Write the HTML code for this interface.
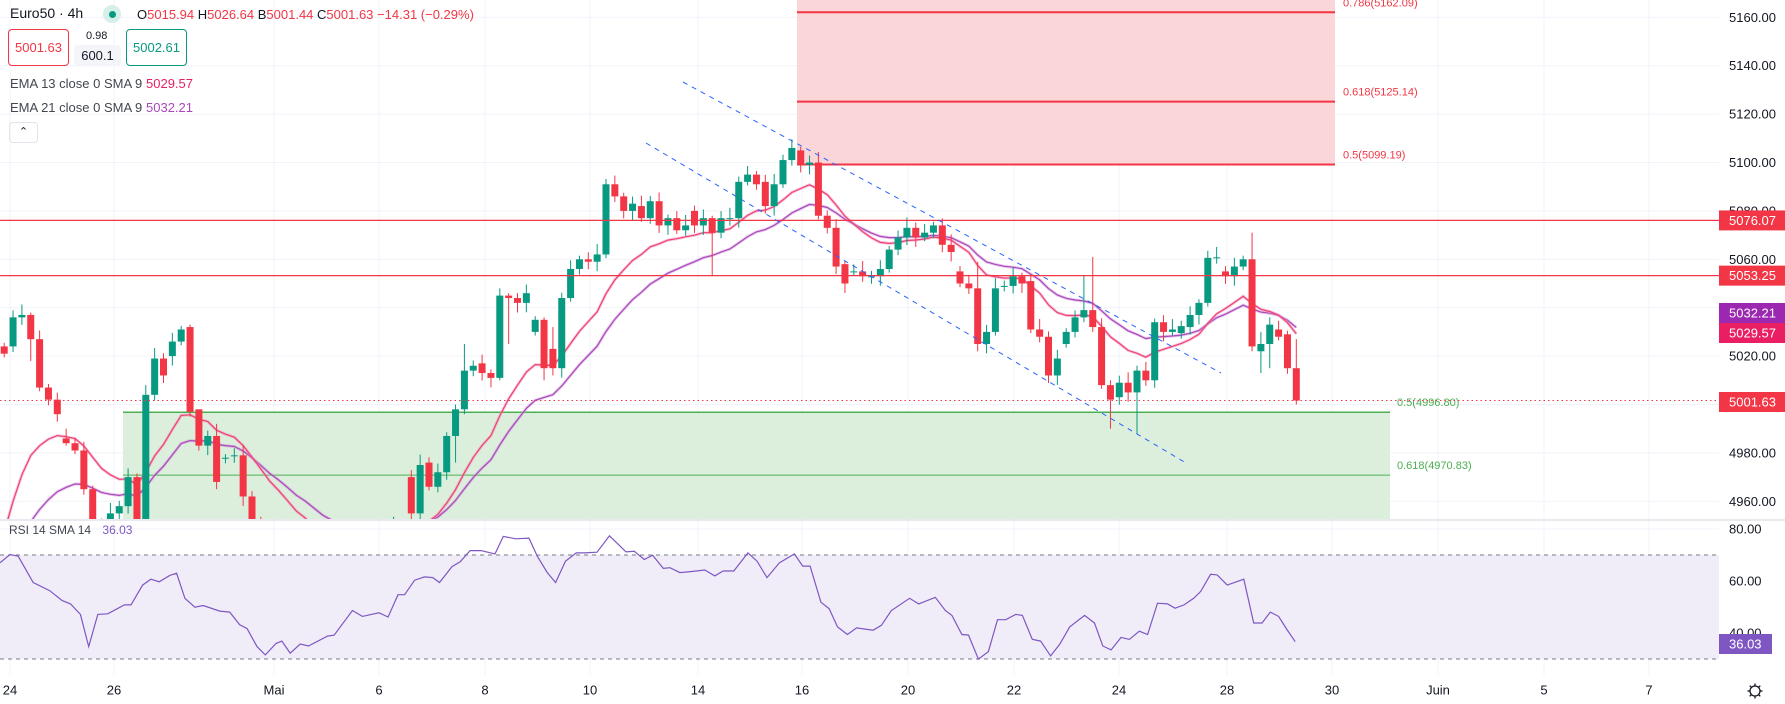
<!DOCTYPE html>
<html><head><meta charset="utf-8">
<style>
html,body{margin:0;padding:0;background:#fff;width:1785px;height:704px;overflow:hidden;font-family:"Liberation Sans",sans-serif;color:#131722}
#wrap{position:relative;width:1785px;height:704px}
svg{position:absolute;left:0;top:0}
.t{position:absolute;white-space:nowrap;font-size:13px;line-height:1}
.box{position:absolute;border-radius:4px;display:flex;align-items:center;justify-content:center;font-size:13px}
</style></head><body><div id="wrap">
<svg id="s" width="1785" height="704" viewBox="0 0 1785 704" xmlns="http://www.w3.org/2000/svg">
<defs>
<clipPath id="cp"><rect x="0" y="0" width="1719" height="519"/></clipPath>
<clipPath id="cr"><rect x="0" y="521" width="1719" height="154"/></clipPath>
</defs>
<g id="grid"></g>
<g id="zones"></g>
<g id="ema" clip-path="url(#cp)"></g>
<g id="candles" clip-path="url(#cp)"></g>
<g id="lines" clip-path="url(#cp)"></g>
<g id="rsi"></g>
<g id="axis"></g>
</svg>

<div class="t" style="left:10px;top:6px;font-size:14px">Euro50 · 4h</div>
<div style="position:absolute;left:103px;top:5px;width:18px;height:18px;border-radius:50%;background:#d6efe9"></div>
<div style="position:absolute;left:108.5px;top:10.5px;width:7px;height:7px;border-radius:50%;background:#089981"></div>
<div class="t" style="left:137px;top:8px">O<span style="color:#f23645">5015.94</span> H<span style="color:#f23645">5026.64</span> B<span style="color:#f23645">5001.44</span> C<span style="color:#f23645">5001.63</span> <span style="color:#f23645">−14.31 (−0.29%)</span></div>
<div class="box" style="left:8px;top:29px;width:59px;height:35px;border:1px solid #f23645;color:#f23645">5001.63</div>
<div class="t" style="left:86px;top:31px;font-size:11px">0.98</div>
<div class="box" style="left:74px;top:45px;width:47px;height:21px;background:#f3f5f9;color:#131722">600.1</div>
<div class="box" style="left:126px;top:29px;width:59px;height:35px;border:1px solid #089981;color:#089981">5002.61</div>
<div class="t" style="left:10px;top:77px;color:#434651">EMA 13 close 0 SMA 9</div>
<div class="t" style="left:146px;top:77px;color:#e91e63">5029.57</div>
<div class="t" style="left:10px;top:101px;color:#434651">EMA 21 close 0 SMA 9</div>
<div class="t" style="left:146px;top:101px;color:#ab47bc">5032.21</div>
<div style="position:absolute;left:9px;top:122px;width:27px;height:19px;border:1px solid #e0e3eb;border-radius:4px;font-size:11px;text-align:center;line-height:19px;color:#131722">&#8963;</div>
<div class="t" style="left:9px;top:524px;font-size:12px;color:#434651">RSI 14 SMA 14 <span style="color:#7e57c2;margin-left:8px">36.03</span></div>

<script>
(function(){
var NS="http://www.w3.org/2000/svg";
function el(p,tag,a,txt){var e=document.createElementNS(NS,tag);for(var k in a)e.setAttribute(k,a[k]);if(txt!==undefined)e.textContent=txt;document.getElementById(p).appendChild(e);return e;}
function py(p){return 17.3+(5160-p)*2.42;}
function ry(v){return 529+(80-v)*2.6;}
var W=1719;
for(var p=5160;p>=4960;p-=20){el("grid","line",{x1:0,x2:W,y1:py(p),y2:py(p),stroke:"#f0f3fa","stroke-width":1});}
[80,60,40].forEach(function(v){el("grid","line",{x1:0,x2:W,y1:ry(v),y2:ry(v),stroke:"#f0f3fa"});});
var days=[["24",10],["26",114],["Mai",274],["6",379],["8",485],["10",590],["14",698],["16",802],["20",908],["22",1014],["24",1119],["28",1227],["30",1332],["Juin",1438],["5",1544],["7",1649]];
days.forEach(function(d){el("grid","line",{x1:d[1],x2:d[1],y1:0,y2:675,stroke:"#f0f3fa"});});
el("zones","rect",{x:797,y:0,width:538,height:py(5099.19),fill:"#fad6d9"});
el("zones","rect",{x:123,y:py(4996.8),width:1267,height:519-py(4996.8),fill:"#dcefdc"});
[5162.09,5125.14,5099.19].forEach(function(v){el("zones","line",{x1:797,x2:1335,y1:py(v),y2:py(v),stroke:"#f23645","stroke-width":2});});
el("zones","line",{x1:123,x2:1390,y1:py(4996.8),y2:py(4996.8),stroke:"#4caf50","stroke-width":1.5});
el("zones","line",{x1:123,x2:1390,y1:py(4970.83),y2:py(4970.83),stroke:"#4caf50","stroke-width":1});
el("zones","text",{x:1343,y:py(5162.09)-6,fill:"#f23645","font-size":11,"font-family":"Liberation Sans"},"0.786(5162.09)");
el("zones","text",{x:1343,y:py(5125.14)-6,fill:"#f23645","font-size":11,"font-family":"Liberation Sans"},"0.618(5125.14)");
el("zones","text",{x:1343,y:py(5099.19)-6,fill:"#f23645","font-size":11,"font-family":"Liberation Sans"},"0.5(5099.19)");
el("zones","text",{x:1397,y:py(4996.8)-6,fill:"#4caf50","font-size":11,"font-family":"Liberation Sans"},"0.5(4996.80)");
el("zones","text",{x:1397,y:py(4970.83)-6,fill:"#4caf50","font-size":11,"font-family":"Liberation Sans"},"0.618(4970.83)");
var B=[[5024,5021],[5024,5036],[5036,5037],[5037,5027],[5027,5007],[5007,5002],[5002,4996],[4986,4984],[4984,4981],[4981,4965],
[4965,4950],[4950,4946],[4946,4955],[4955,4958],[4958,4970],[4970,4952],[4952,5004],[5004,5019],[5019,5012],[5020,5026],
[5026,5031],[5032,4997],[4998,4983],[4983,4987],[4987,4968],[4978,4978],[4979,4979],[4979,4962],[4962,4950],[4950,4944],
[4944,4938],[4938,4942],[4942,4935],[4935,4930],[4930,4936],[4936,4928],[4928,4925],[4925,4932],[4932,4936],[4936,4931],
[4931,4938],[4938,4943],[4943,4940],[4940,4946],[4946,4950],[4950,4947],[4970,4955],[4955,4975],[4976,4966],[4966,4972],
[4972,4987],[4987,4998],[4998,5014],[5014,5016],[5017,5013],[5013,5011],[5011,5045],[5045,5044],[5044,5042],[5042,5046],
[5030,5035],[5035,5015],[5023,5015],[5015,5044],[5044,5056],[5056,5060],[5060,5059],[5059,5062],[5062,5091],[5091,5086],
[5086,5080],[5080,5083],[5082,5077],[5077,5084],[5084,5074],[5074,5077],[5077,5072],[5072,5074],[5080,5074],[5074,5077],
[5077,5071],[5071,5077],[5077,5077],[5077,5092],[5092,5095],[5095,5091],[5092,5082],[5082,5091],[5091,5101],[5101,5106],
[5105,5099],[5099,5100],[5100,5078],[5078,5073],[5073,5057],[5058,5050],[5055,5055],[5055,5053],[5053,5053],[5053,5056],
[5056,5064],[5064,5069],[5069,5073],[5073,5069],[5069,5071],[5071,5074],[5074,5066],[5066,5063],[5055,5050],[5050,5048],
[5048,5025],[5025,5030],[5030,5048],[5049,5049],[5049,5053],[5053,5050],[5051,5031],[5031,5028],[5028,5012],[5012,5019],
[5025,5030],[5030,5036],[5036,5039],[5039,5032],[5032,5008],[5008,5002],[5003,5009],[5009,5005],[5005,5014],[5014,5010],
[5010,5034],[5034,5030],[5030,5031],[5029.5,5032.4],[5032,5037],[5037,5042],[5042,5060.6],[5060.5,5060.8],[5055,5053],[5053,5057],
[5057,5060],[5060,5024],[5022,5025],[5025,5033],[5031,5028],[5029,5015],[5015,5001.63]];
var OV={3:[5038,5018],7:[4990,4983],16:[5008,4950],21:[5033,4995],22:[4998,4981],24:[4992,4965],51:[5000,4976],52:[5025,4996],
56:[5048,5010],57:[5046,5025],58:[5046,5038],61:[5036,5010],62:[5032,5012],80:[5078,5053],110:[5059,5022],122:[5053,5034],
123:[5061,5030],125:[5010,4990],128:[5016,4988],141:[5071,5022],142:[5030,5013],143:[5036,5015],146:[5027,5000]};
var N=B.length, SP=8.85, XL=1296.3;
function bx(i){return XL-(N-1-i)*SP;}
for(var i=0;i<N;i++){
 var o=B[i][0],c=B[i][1],up=c>=o,col=up?"#089981":"#f23645";
 var w=1.5+((i*37)%5)*0.7;
 var h=Math.max(o,c)+w,l=Math.min(o,c)-(1.5+((i*53)%4)*0.8);
 if(OV[i]){h=OV[i][0];l=OV[i][1];}
 var x=bx(i);
 el("candles","line",{x1:x,x2:x,y1:py(h),y2:py(l),stroke:col,"stroke-width":1});
 var t=py(Math.max(o,c)),bh=Math.max(1,py(Math.min(o,c))-t);
 el("candles","rect",{x:x-3.5,y:t,width:7,height:bh,fill:col});
}
function ema(n,seed){var k=2/(n+1),e=seed,r=[];for(var i=0;i<N;i++){e=B[i][1]*k+e*(1-k);r.push(e);}return r;}
function pl(a,col,sw,op){var d="";for(var i=0;i<a.length;i++){d+=(i?"L":"M")+bx(i).toFixed(1)+","+py(a[i]).toFixed(1);}el("ema","path",{d:d,fill:"none",stroke:col,"stroke-width":sw,"stroke-opacity":op||1});}
var e13=ema(13,4935),e21=ema(21,4915);
pl(e21,"#ce93d8",3,0.5);pl(e21,"#ab47bc",1.2);
pl(e13,"#f48fb1",3,0.5);pl(e13,"#ec407a",1.2);
[5076.07,5053.25].forEach(function(v){el("lines","line",{x1:0,x2:W,y1:py(v),y2:py(v),stroke:"#f23645","stroke-width":1.2});});
el("lines","line",{x1:0,x2:W,y1:py(5001.63),y2:py(5001.63),stroke:"#f23645","stroke-width":1,"stroke-dasharray":"1.5,3"});
el("lines","line",{x1:683,y1:82,x2:1221,y2:373,stroke:"#2962ff","stroke-width":1,"stroke-dasharray":"5,5"});
el("lines","line",{x1:646,y1:143,x2:1186,y2:463,stroke:"#2962ff","stroke-width":1,"stroke-dasharray":"5,5"});
el("rsi","rect",{x:0,y:ry(70),width:W,height:ry(30)-ry(70),fill:"#f0edf8"});
el("rsi","line",{x1:0,x2:W,y1:ry(70),y2:ry(70),stroke:"#787b86","stroke-dasharray":"4,4"});
el("rsi","line",{x1:0,x2:W,y1:ry(30),y2:ry(30),stroke:"#787b86","stroke-dasharray":"4,4"});
var R=[[0,130],[12,105],[22,110],[40,190],[60,215],[75,245],[85,255],[97,287],[107,385],[118,287],[130,285],[150,258],[158,258],[172,198],[182,180],[192,188],[205,168],[213,162],[223,238],[235,265],[245,260],[265,277],[277,280],[289,318],[298,330],[310,385],[320,410],[333,375],[340,368],[350,405],[362,377],[372,383],[395,353],[403,350],[425,275],[437,293],[457,282],[468,295],[480,227],[488,227],[500,183],[512,173],[522,175],[530,190],[545,142],[555,127],[567,93],[580,93],[597,103],[607,50],[622,57],[638,55],[648,110],[660,160],[670,190],[682,125],[695,100],[705,100],[720,98],[735,48],[755,97],[765,95],[777,120],[787,107],[800,147],[808,145],[820,160],[833,157],[850,152],[862,170],[872,155],[885,155],[902,100],[913,125],[925,175],[940,130],[958,103],[968,140],[977,140],[990,250],[1000,270],[1010,325],[1022,348],[1033,328],[1053,335],[1063,320],[1075,275],[1097,238],[1108,255],[1128,235],[1140,275],[1148,290],[1160,348],[1168,350],[1180,423],[1192,400],[1203,303],[1213,303],[1225,287],[1233,290],[1245,363],[1255,368],[1267,413],[1278,378],[1290,325],[1308,290],[1320,313],[1330,383],[1340,395],[1352,357],[1362,363],[1374,338],[1384,348],[1396,253],[1408,255],[1417,268],[1428,258],[1440,237],[1448,217],[1460,165],[1468,167],[1480,198],[1500,180],[1512,313],[1522,313],[1532,280],[1542,293],[1552,333],[1562,370]];
var d="";R.forEach(function(p,i){d+=(i?"L":"M")+(p[0]/1.206).toFixed(1)+","+(520+p[1]/3.04).toFixed(1);});
el("rsi","path",{d:d,fill:"none",stroke:"#7e57c2","stroke-width":1.2});
el("axis","line",{x1:0,x2:1785,y1:520,y2:520,stroke:"#e0e3eb","stroke-width":1.5});
var F={"font-size":13,"font-family":"Liberation Sans",fill:"#131722"};
function tx(x,y,s,extra){var a={x:x,y:y,"dominant-baseline":"central"};for(var k in F)a[k]=F[k];for(var k in extra)a[k]=extra[k];return el("axis","text",a,s);}
for(var p=5160;p>=4960;p-=20){tx(1729,py(p),p.toFixed(2));}
[["80.00",80],["60.00",60],["40.00",40]].forEach(function(v){tx(1729,ry(v[1]),v[0]);});
days.forEach(function(dd){tx(dd[1],690,dd[0],{"text-anchor":"middle"});});
function lbl(y,s,col,w){el("axis","rect",{x:1719,y:y-10,width:w||66,height:20,fill:col});tx(1729,y,s,{fill:"#fff"});}
lbl(py(5076.07),"5076.07","#f23645");
lbl(py(5053.25),"5053.25","#f23645");
lbl(313,"5032.21","#9c27b0");
lbl(333,"5029.57","#e91e63");
lbl(402,"5001.63","#f23645");
lbl(644,"36.03","#7e57c2",53);
el("axis","circle",{cx:1755,cy:691,r:5,fill:"none",stroke:"#131722","stroke-width":1.3});
[0,45,90,135,180,225,270,315].forEach(function(a){var r=a*Math.PI/180;el("axis","line",{x1:1755+5*Math.cos(r),y1:691+5*Math.sin(r),x2:1755+7.5*Math.cos(r),y2:691+7.5*Math.sin(r),stroke:"#131722","stroke-width":1.3});});
})();
</script>
</div></body></html>
